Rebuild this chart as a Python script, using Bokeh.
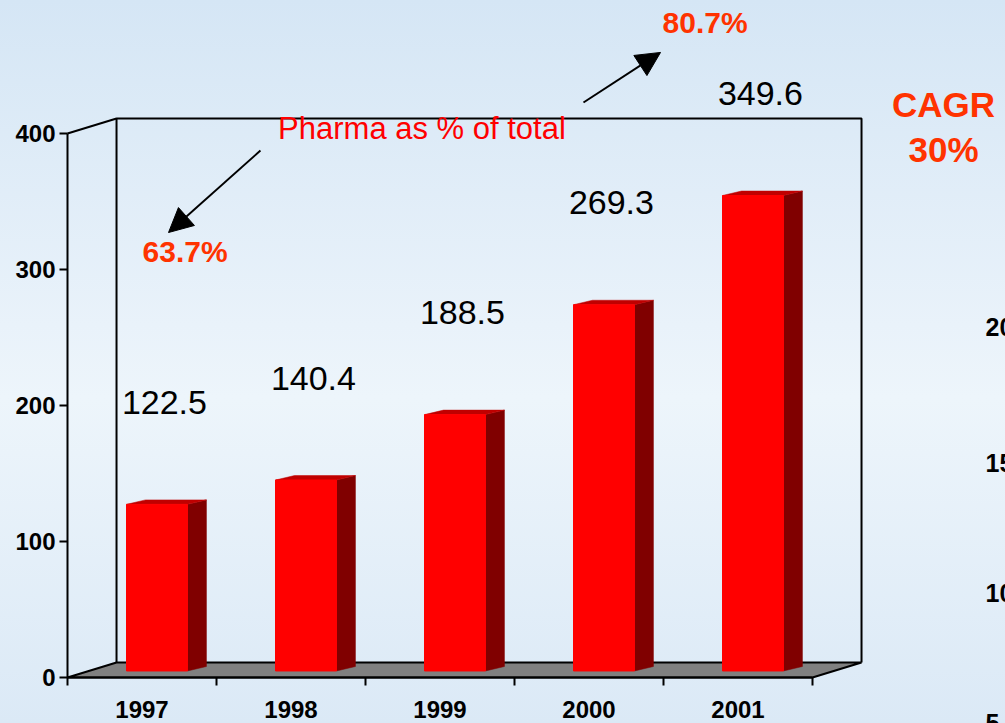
from bokeh.plotting import figure
from bokeh.models import (LinearAxis, FixedTicker, Range1d, Arrow, NormalHead, Label,
                          ColumnDataSource, GlobalInlineStyleSheet)
from bokeh.embed import file_html
from bokeh.resources import INLINE
from bokeh.core.properties import value

# ---------------- data ----------------
years = ["1997", "1998", "1999", "2000", "2001"]
sales = [122.5, 140.4, 188.5, 269.3, 349.6]
y_ticks = [0, 100, 200, 300, 400]
share_first = "63.7%"
share_last = "80.7%"
share_title = "Pharma as % of total"
cagr_lines = ["CAGR", "30%"]
neighbour_ticks = ["20", "15", "10", "5"]          # cut-off labels of the next chart
neighbour_tick_y = [257.4, 157.4, 62.5, -33.1]

FONT = "Liberation Sans"
ORANGE = "#ff3300"

# ---------------- figure ----------------
W, H = 1005, 723
p = figure(width=W, height=H, x_range=Range1d(-0.4497, 6.2953), y_range=Range1d(-33.82, 497.79),
           output_backend="svg", toolbar_location=None, min_border=0,
           x_axis_type=None, y_axis_type=None)
p.outline_line_color = None
p.background_fill_alpha = 0
p.border_fill_alpha = 0
p.stylesheets = [GlobalInlineStyleSheet(css=(
    "html{min-height:100%;background:linear-gradient(#d5e6f5 0%,#e9f2fa 45%,#edf5fb 55%,#dbe9f6 100%) fixed;}"
    "body{background:transparent;overflow:hidden;}"))]

n = len(years)
ymax = y_ticks[-1]
DX, DY = 0.329, 11.0      # depth of the walls / floor

# back wall and side wall edges
p.line([DX, DX, n + DX, n + DX], [DY, ymax + DY, ymax + DY, DY], line_color="black", line_width=2)
p.line([0, DX], [ymax, ymax + DY], line_color="black", line_width=2)
# floor
p.patch([0, n, n + DX, DX], [0, 0, DY, DY], fill_color="#808080", line_color="black", line_width=2)

# ---------------- bars ----------------
base = 4.8
bdx, bdy = 0.1275, 3.3
face_l = [i + 0.396 for i in range(n)]
face_r = [i + 0.805 for i in range(n)]
tops = [base + v for v in sales]

src = ColumnDataSource(dict(l=face_l, r=face_r, b=[base] * n, t=tops))
side_xs = [[r, r + bdx, r + bdx, r] for r in face_r]
side_ys = [[base, base + bdy, t + bdy, t] for t in tops]
top_xs = [[l, l + bdx, r + bdx, r] for l, r in zip(face_l, face_r)]
top_ys = [[t, t + bdy, t + bdy, t] for t in tops]

p.patches(side_xs, side_ys, fill_color="#800000", line_color="#800000", line_width=0.5)
p.patches(top_xs, top_ys, fill_color="#c00000", line_color="#c00000", line_width=0.5)
p.quad(left="l", right="r", bottom="b", top="t", source=src, fill_color="#ff0000", line_color="#ff0000")

# value labels
lab_src = ColumnDataSource(dict(x=[(l + r) / 2 + 0.05 for l, r in zip(face_l, face_r)],
                                y=[t + 75 for t in tops],
                                txt=[f"{v:.1f}" for v in sales]))
p.text(x="x", y="y", text="txt", source=lab_src, text_font=value(FONT), text_font_size="34px",
       text_align="center", text_baseline="middle", text_color="black")

# ---------------- axes ----------------
yaxis = LinearAxis(fixed_location=0, bounds=(0, ymax), ticker=FixedTicker(ticks=y_ticks))
yaxis.axis_line_width = 2
yaxis.major_tick_line_width = 2
yaxis.major_tick_out = 8
yaxis.major_tick_in = 0
yaxis.minor_tick_line_color = None
yaxis.major_label_standoff = 4
yaxis.major_label_text_font = FONT
yaxis.major_label_text_font_size = "24px"
yaxis.major_label_text_font_style = "bold"
yaxis.major_label_text_color = "black"
p.add_layout(yaxis, "left")

xaxis = LinearAxis(fixed_location=0, bounds=(0, n), ticker=FixedTicker(ticks=list(range(n + 1))))
xaxis.axis_line_width = 2
xaxis.major_tick_line_width = 2
xaxis.major_tick_out = 8
xaxis.major_tick_in = 0
xaxis.minor_tick_line_color = None
xaxis.major_label_overrides = {i: "" for i in range(n + 1)}
p.add_layout(xaxis, "below")

cat_axis = LinearAxis(fixed_location=0, ticker=FixedTicker(ticks=[i + 0.5 for i in range(n)]))
cat_axis.axis_line_color = None
cat_axis.major_tick_line_color = None
cat_axis.minor_tick_line_color = None
cat_axis.major_label_overrides = {i + 0.5: y for i, y in enumerate(years)}
cat_axis.major_label_standoff = 17
cat_axis.major_label_text_font = FONT
cat_axis.major_label_text_font_size = "24px"
cat_axis.major_label_text_font_style = "bold"
cat_axis.major_label_text_color = "black"
p.add_layout(cat_axis, "below")

# ---------------- annotations ----------------
p.add_layout(Label(x=2.379, y=403.7, text=share_title, text_font=FONT, text_font_size="31px",
                   text_color="#ff0000", text_align="center", text_baseline="middle"))
p.add_layout(Label(x=0.789, y=313.2, text=share_first, text_font=FONT, text_font_size="30px",
                   text_font_style="bold", text_color=ORANGE, text_align="center", text_baseline="middle"))
p.add_layout(Label(x=4.279, y=481.3, text=share_last, text_font=FONT, text_font_size="30px",
                   text_font_style="bold", text_color=ORANGE, text_align="center", text_baseline="middle"))
for txt, yy in zip(cagr_lines, [421.0, 388.6]):
    p.add_layout(Label(x=5.879, y=yy, text=txt, text_font=FONT, text_font_size="35px",
                       text_font_style="bold", text_color=ORANGE, text_align="center",
                       text_baseline="middle"))
for txt, yy in zip(neighbour_ticks, neighbour_tick_y):
    p.add_layout(Label(x=6.161, y=yy, text=txt, text_font=FONT, text_font_size="25px",
                       text_font_style="bold", text_color="black", text_align="left",
                       text_baseline="middle"))

p.add_layout(Arrow(x_start=1.295, y_start=387.5, x_end=0.678, y_end=327.2, line_width=2,
                   end=NormalHead(size=24, fill_color="black", line_color="black")))
p.add_layout(Arrow(x_start=3.463, y_start=422.8, x_end=3.980, y_end=459.6, line_width=2,
                   end=NormalHead(size=24, fill_color="black", line_color="black")))

open("out.html", "w").write(file_html(p, INLINE))
